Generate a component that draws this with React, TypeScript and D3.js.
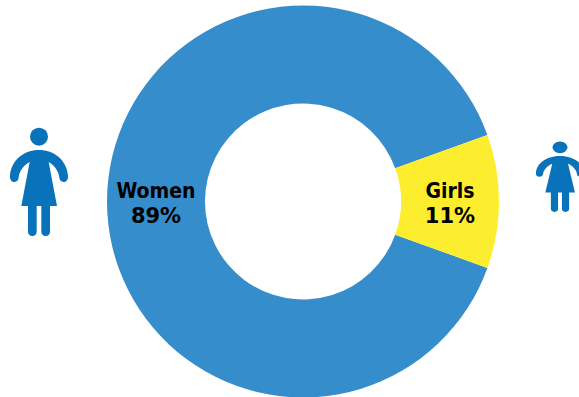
import React from "react";
import * as d3 from "d3";

const categories = ["Women", "Girls"];
const shares = [89, 11];
const sliceColors = ["#368dcb", "#fcee2f"];
const iconColor = "#0872ba";

// Figure outline, in a 234 x 420 drawing space centred on x = 117.
const FIGURE_BODY =
  "M43,216 C34,216 29,208 30,198 C33,150 72,120 117,120 C162,120 201,150 204,198 " +
  "C205,208 200,216 191,216 C183,216 178,209 178,202 C177,185 162,164 146,156 " +
  "L171,288 L150,288 L150,365 C150,372 145,378 137,378 C129,378 124,372 124,365 " +
  "L124,288 L110,288 L110,365 C110,372 105,378 97,378 C89,378 84,372 84,365 " +
  "L84,288 L64,288 L89,156 C72,164 57,185 56,202 C56,209 51,216 43,216 Z";

function Figure({ x, y, sx, sy }: { x: number; y: number; sx: number; sy: number }) {
  return (
    <g transform={`translate(${x},${y}) scale(${sx / 3},${sy / 3}) translate(-117,0)`} fill={iconColor}>
      <circle cx={117} cy={80} r={27} />
      <path d={FIGURE_BODY} />
    </g>
  );
}

export default function App() {
  const width = 579;
  const height = 397;
  const cx = 303;
  const cy = 201.5;
  const outer = 196;
  const inner = 98;

  // The smaller slice is centred on the 3 o'clock position.
  const smallAngle = (shares[1] / d3.sum(shares)) * 2 * Math.PI;
  const pie = d3
    .pie<number>()
    .sort(null)
    .startAngle(Math.PI / 2 + smallAngle / 2)
    .endAngle(Math.PI / 2 + smallAngle / 2 + 2 * Math.PI);
  const arcs = pie(shares);
  const arc = d3.arc<d3.PieArcDatum<number>>().innerRadius(inner).outerRadius(outer);
  const labelRadius = (inner + outer) / 2;

  return (
    <svg
      width={width}
      height={height}
      style={{ position: "absolute", left: 0, top: 0, display: "block" }}
    >
      <rect width={width} height={height} fill="#ffffff" />
      <g transform={`translate(${cx},${cy})`}>
        {arcs.map((a, i) => {
          const mid = (a.startAngle + a.endAngle) / 2;
          const lx = Math.sin(mid) * labelRadius;
          const ly = -Math.cos(mid) * labelRadius;
          return (
            <g key={categories[i]}>
              <path d={arc(a) ?? ""} fill={sliceColors[i]} />
              <text
                x={lx}
                y={ly}
                textAnchor="middle"
                fontSize={21}
                fontWeight={700}
                fill="#000000"
              >
                <tspan x={lx} dy={-4} fontFamily="'DejaVu Sans Condensed', 'DejaVu Sans', sans-serif" fontStretch="condensed">
                  {categories[i]}
                </tspan>
                <tspan x={lx} dy={25.5} fontFamily="'DejaVu Sans', sans-serif">
                  {`${shares[i]}%`}
                </tspan>
              </text>
            </g>
          );
        })}
      </g>
      <Figure x={39} y={110} sx={1} sy={1} />
      <Figure x={560} y={130} sx={0.83} sy={0.65} />
    </svg>
  );
}
